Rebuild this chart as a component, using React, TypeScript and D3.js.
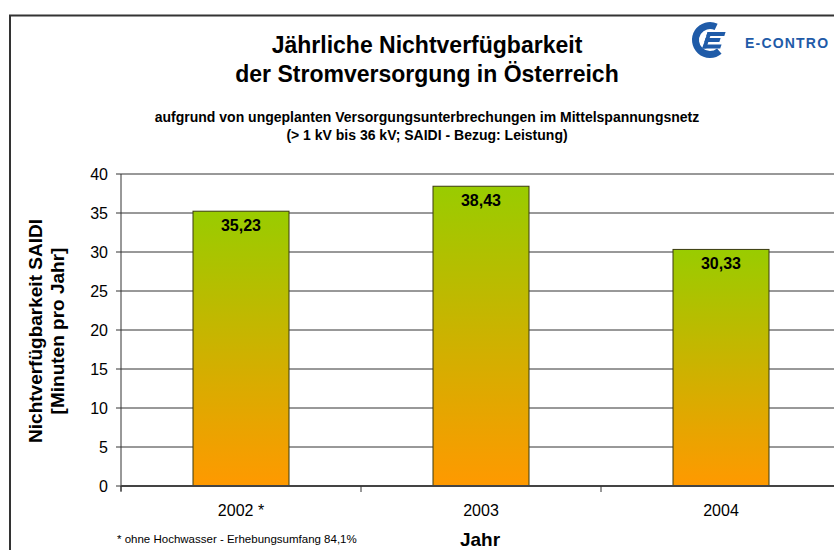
import { useMemo } from "react";
import * as d3 from "d3";

const categories = ["2002 *", "2003", "2004"];
const values = [35.23, 38.43, 30.33];
const valueLabels = ["35,23", "38,43", "30,33"];
const yTicks = [0, 5, 10, 15, 20, 25, 30, 35, 40];
const titleLines = ["Jährliche Nichtverfügbarkeit", "der Stromversorgung in Österreich"];
const subtitleLines = [
  "aufgrund von ungeplanten Versorgungsunterbrechungen im Mittelspannungsnetz",
  "(> 1 kV bis 36 kV; SAIDI - Bezug: Leistung)",
];
const yTitleLines = ["Nichtverfügbarkeit SAIDI", "[Minuten pro Jahr]"];
const xTitle = "Jahr";
const footnote = "* ohne Hochwasser - Erhebungsumfang 84,1%";

const W = 834;
const H = 550;
const FONT = "'Liberation Sans', Arial, sans-serif";
const BLUE = "#1f5ba8";

export default function App() {
  const plot = { left: 121, right: 841, top: 174, bottom: 486 };

  const { x, y } = useMemo(() => {
    const x = d3
      .scaleBand<string>()
      .domain(categories)
      .range([plot.left, plot.right])
      .paddingInner(0.6)
      .paddingOuter(0.3);
    const y = d3.scaleLinear().domain([0, 40]).range([plot.bottom, plot.top]);
    return { x, y };
  }, []);

  const step = (plot.right - plot.left) / categories.length;
  const deg = Math.PI / 180;
  const logoArc =
    d3.arc()({ innerRadius: 11, outerRadius: 18, startAngle: 140 * deg, endAngle: 385 * deg }) ?? "";

  return (
    <svg
      width={W}
      height={H}
      style={{ position: "absolute", left: 0, top: 0, display: "block", background: "#fff" }}
      fontFamily={FONT}
    >
      <defs>
        <linearGradient id="barGrad" x1="0" x2="0" y1="0" y2="1">
          <stop offset="0%" stopColor="#99cc00" />
          <stop offset="100%" stopColor="#ff9900" />
        </linearGradient>
      </defs>

      {/* chart frame */}
      <path d={`M10,${H} V15.5 H${W}`} fill="none" stroke="#333" strokeWidth={2} />

      {/* titles */}
      {titleLines.map((t, i) => (
        <text key={t} x={427} y={53 + i * 29} textAnchor="middle" fontSize={23} fontWeight="bold" fill="#000">
          {t}
        </text>
      ))}
      {subtitleLines.map((t, i) => (
        <text key={t} x={427} y={122 + i * 18} textAnchor="middle" fontSize={14} fontWeight="bold" fill="#000">
          {t}
        </text>
      ))}

      {/* logo */}
      <g transform="translate(710,40)">
        <path d={logoArc} fill={BLUE} />
        <g transform="skewX(-18)" fill={BLUE}>
          <rect x={-5} y={-8} width={18} height={4} />
          <rect x={-5} y={-2} width={15} height={4} />
          <rect x={-5} y={4.5} width={18} height={4} />
          <rect x={-5} y={-8} width={4} height={16.5} />
        </g>
      </g>
      <text x={745} y={48} fontSize={14} fontWeight="bold" fill={BLUE} letterSpacing={1.2}>
        E-CONTRO
      </text>

      {/* gridlines */}
      {yTicks.map((t) => (
        <line key={t} x1={plot.left} x2={W} y1={y(t)} y2={y(t)} stroke="#333" strokeWidth={1} />
      ))}
      {/* y axis */}
      <line x1={plot.left} x2={plot.left} y1={plot.top} y2={plot.bottom + 5} stroke="#333" strokeWidth={1} />
      {yTicks.map((t) => (
        <g key={t}>
          <line x1={plot.left - 5} x2={plot.left} y1={y(t)} y2={y(t)} stroke="#333" />
          <text x={plot.left - 13} y={y(t) + 6} textAnchor="end" fontSize={16} fill="#000">
            {t}
          </text>
        </g>
      ))}

      {/* bars */}
      {categories.map((c, i) => {
        const bx = x(c)!;
        const by = y(values[i]);
        return (
          <g key={c}>
            <rect
              x={bx}
              y={by}
              width={x.bandwidth()}
              height={y(0) - by}
              fill="url(#barGrad)"
              stroke="#3a3a10"
              strokeWidth={1}
            />
            <text
              x={bx + x.bandwidth() / 2}
              y={by + 20}
              textAnchor="middle"
              fontSize={16}
              fontWeight="bold"
              fill="#000"
            >
              {valueLabels[i]}
            </text>
          </g>
        );
      })}

      {/* x axis */}
      <line x1={plot.left} x2={W} y1={plot.bottom} y2={plot.bottom} stroke="#444" strokeWidth={2} />
      {d3.range(categories.length + 1).map((i) => (
        <line
          key={i}
          x1={plot.left + i * step}
          x2={plot.left + i * step}
          y1={plot.bottom}
          y2={plot.bottom + 6}
          stroke="#333"
        />
      ))}
      {categories.map((c) => (
        <text key={c} x={x(c)! + x.bandwidth() / 2} y={516} textAnchor="middle" fontSize={16} fill="#000">
          {c}
        </text>
      ))}

      {/* axis titles */}
      {yTitleLines.map((t, i) => (
        <text
          key={t}
          transform={`translate(${42 + i * 22},331) rotate(-90)`}
          textAnchor="middle"
          fontSize={19}
          fontWeight="bold"
          fill="#000"
        >
          {t}
        </text>
      ))}
      <text x={480} y={546} textAnchor="middle" fontSize={19} fontWeight="bold" fill="#000">
        {xTitle}
      </text>
      <text x={117} y={543} fontSize={11.5} fill="#000">
        {footnote}
      </text>
    </svg>
  );
}
